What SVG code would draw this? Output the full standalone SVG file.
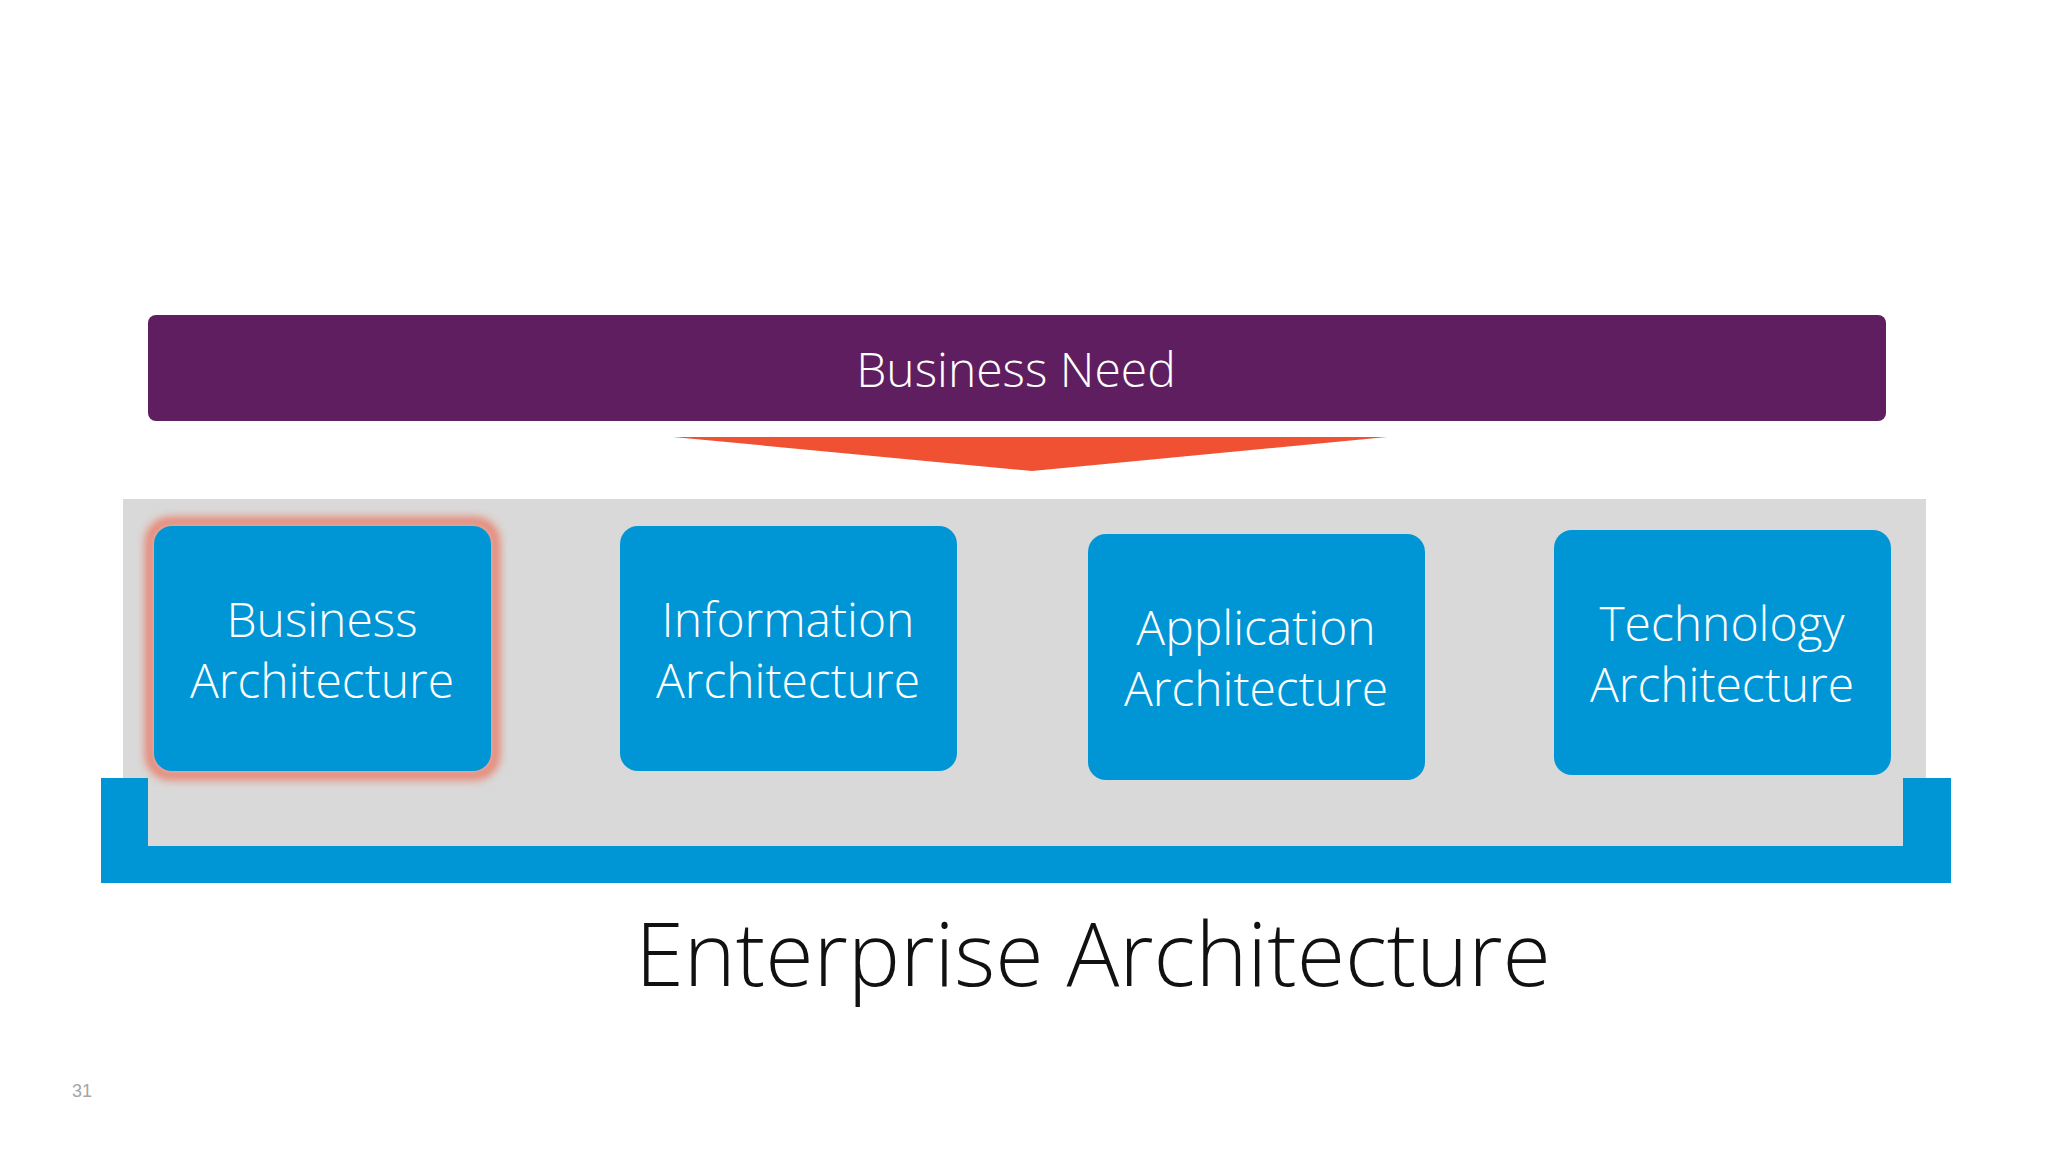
<svg xmlns="http://www.w3.org/2000/svg" width="2048" height="1152" viewBox="0 0 2048 1152">
<defs>
<style>
.box{fill:#0096D6}
.chev{fill:#F05133}
.t{font-family:"Open Sans","Noto Sans",sans-serif;font-weight:300;fill:#fff;font-size:48px;text-anchor:middle}
</style>
<filter id="glow" x="-20%" y="-20%" width="140%" height="140%"><feGaussianBlur stdDeviation="5"/></filter>
</defs>
<rect width="2048" height="1152" fill="#fff"/>
<g id="need">
<rect x="148" y="315" width="1738" height="106" rx="8" fill="#5F1E5F"/>
<text x="1016" y="387" class="t" font-size="50">Business Need</text>
</g>
<g id="connectors">
<polygon class="chev" points="673,437 1387,437 1032,471"/>
<polygon class="chev" points="508,534 554,534 597,653 554,771 508,771"/>
<polygon class="chev" points="974,534 1020,534 1063,653 1020,771 974,771"/>
<polygon class="chev" points="1440,543 1486,543 1529,662 1486,780 1440,780"/>
</g>
<g id="ea">
<rect x="123" y="499" width="1803" height="347" fill="#D9D9D9"/>
<path d="M101 778H148V846H1903V778H1951V883H101Z" fill="#0096D6"/>
<text x="1093" y="986" font-family="'Open Sans','Noto Sans',sans-serif" font-weight="300" font-size="88" text-anchor="middle" fill="#111">Enterprise Architecture</text>
</g>
<g id="b1">
<rect x="150" y="522" width="345" height="253" rx="20" fill="none" stroke="#F05133" stroke-width="8" filter="url(#glow)" opacity="0.8"/>
<rect class="box" x="154" y="526" width="337" height="245" rx="18"/>
<text class="t" x="322" y="637">Business</text><text class="t" x="322" y="698">Architecture</text>
</g>
<g id="b2">
<rect class="box" x="620" y="526" width="337" height="245" rx="18"/>
<text class="t" x="788" y="637">Information</text><text class="t" x="788" y="698">Architecture</text>
</g>
<g id="b3">
<rect class="box" x="1088" y="534" width="337" height="246" rx="18"/>
<text class="t" x="1256" y="645">Application</text><text class="t" x="1256" y="706">Architecture</text>
</g>
<g id="b4">
<rect class="box" x="1554" y="530" width="337" height="245" rx="18"/>
<text class="t" x="1722" y="641">Technology</text><text class="t" x="1722" y="702">Architecture</text>
</g>
<text x="82" y="1097" font-family="'Liberation Sans',sans-serif" font-size="18" fill="#A6A6A6" text-anchor="middle">31</text>
</svg>
